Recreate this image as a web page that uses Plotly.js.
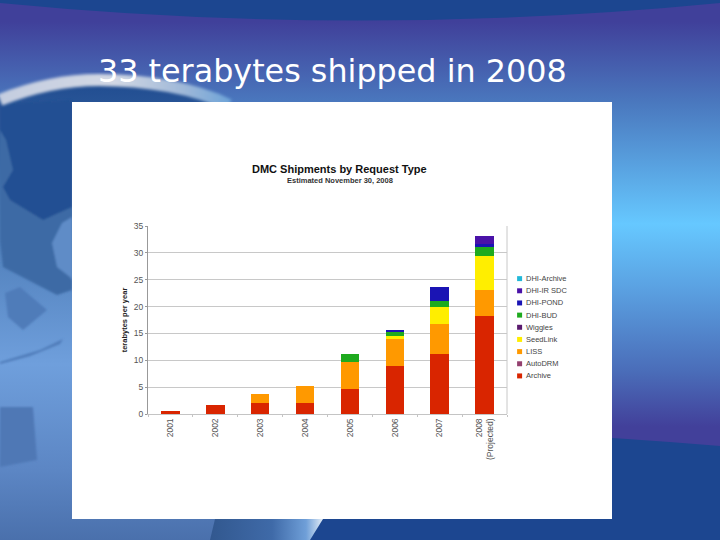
<!DOCTYPE html>
<html>
<head>
<meta charset="utf-8">
<script src="https://cdn.plot.ly/plotly-3.0.1.min.js"></script>
<style>
html,body{margin:0;padding:0;width:720px;height:540px;overflow:hidden;background:#1c4690}
#bg{position:absolute;left:0;top:0}
#chart{position:absolute;left:0;top:0;width:720px;height:540px}
</style>
</head>
<body>
<svg id="bg" width="720" height="540" viewBox="0 0 720 540">
<defs>
<linearGradient id="sky" x1="0" y1="0" x2="0" y2="1">
<stop offset="0" stop-color="#40409a"/>
<stop offset="0.04" stop-color="#40409a"/>
<stop offset="0.19" stop-color="#4a78be"/>
<stop offset="0.415" stop-color="#66c8ff"/>
<stop offset="0.54" stop-color="#5a9fe0"/>
<stop offset="0.69" stop-color="#4a6cb8"/>
<stop offset="0.79" stop-color="#42409a"/>
<stop offset="1" stop-color="#42409a"/>
</linearGradient>
<linearGradient id="globe" x1="0" y1="0" x2="0" y2="1">
<stop offset="0" stop-color="#1f4b8f"/>
<stop offset="0.3" stop-color="#4a79b4"/>
<stop offset="0.62" stop-color="#6f9fdc"/>
<stop offset="0.85" stop-color="#5c86c4"/>
<stop offset="1" stop-color="#4a70ac"/>
</linearGradient>
<linearGradient id="edge" x1="0" y1="0" x2="1" y2="0">
<stop offset="0" stop-color="#32588f"/>
<stop offset="0.55" stop-color="#3f6aa8"/>
<stop offset="0.85" stop-color="#6f9fd8"/>
<stop offset="1" stop-color="#e2ecf6"/>
</linearGradient>
<linearGradient id="rim" x1="0" y1="0" x2="1" y2="0">
<stop offset="0" stop-color="#c4cde0"/>
<stop offset="0.5" stop-color="#d2d8e4"/>
<stop offset="0.8" stop-color="#9fb8d8"/>
<stop offset="1" stop-color="#6fa4d8"/>
</linearGradient>
<filter id="soft" x="-10%" y="-10%" width="120%" height="120%"><feGaussianBlur stdDeviation="1"/></filter>
<filter id="soft2" x="-10%" y="-30%" width="120%" height="160%"><feGaussianBlur stdDeviation="1.6"/></filter>
</defs>
<rect width="720" height="540" fill="url(#sky)"/>
<path d="M0,3 Q360,38 720,3 L720,0 L0,0 Z" fill="#1c4690"/>
<path d="M72,428 Q420,420 720,446 L720,540 L0,540 L0,428 Z" fill="#1c4690"/>
<path d="M0,97 C30,85 65,77 99,77 C145,77 195,85 229,102 L320,519 L298,540 L0,540 Z" fill="url(#globe)"/>
<g filter="url(#soft)">
<path d="M0,130 L72,100 L72,290 L57,295 L3,267 L0,240 Z" fill="#3d6aa5"/>
<path d="M0,104 L72,100 L72,207 L43,220 L10,200 L3,187 L13,170 L6,140 L0,130 Z" fill="#235093"/>
<path d="M52,243 L62,223 L72,217 L72,280 L70,277 L57,267 Z" fill="#5f8cc7"/>
<path d="M5,293 L20,287 L47,310 L23,330 L8,317 Z" fill="#4f7cb9"/>
<path d="M0,407 L33,407 L37,460 L0,467 Z" fill="#4f78b5"/>
<path d="M0,362 L40,350 L63,339 L60,344 L30,356 L0,364 Z" fill="#4f7cb9"/>
</g>
<path d="M215,519 L323,519 L310,540 L210,540 Z" fill="url(#edge)"/>
<path d="M0,100 C30,88 65,80 99,80 C145,80 195,88 229,105" fill="none" stroke="url(#rim)" stroke-width="12" filter="url(#soft2)"/>
<rect x="72" y="102" width="540" height="417" fill="#ffffff"/>
</svg>
<div id="chart"></div>
<script>
const years = ['2001','2002','2003','2004','2005','2006','2007','2008<br>(Projected)'];
const seriesNames = ['Archive','AutoDRM','LISS','SeedLink','Wiggles','DHI-BUD','DHI-POND','DHI-IR SDC','DHI-Archive'];
const seriesColors = ['#d92500','#94406f','#ff9900','#ffee00','#5a1a6e','#1eaa1e','#1a14b4','#4a12a8','#22b8d8'];
const archive   = [0.6,1.7,2.1,2.05,4.6,8.9,11.1,18.2];
const autodrm   = [0,0,0,0,0,0,0,0];
const liss      = [0,0,1.6,3.25,5.05,5.0,5.7,4.9];
const seedlink  = [0,0,0,0,0,0.6,3.05,6.4];
const wiggles   = [0,0,0,0,0,0,0,0];
const dhiBud    = [0,0,0,0,1.55,0.7,1.25,1.5];
const dhiPond   = [0,0,0,0,0,0.5,2.5,0.6];
const dhiIrSdc  = [0,0,0,0,0,0,0,1.6];
const dhiArchive= [0,0,0,0,0,0,0,0];
const allSeries = [archive,autodrm,liss,seedlink,wiggles,dhiBud,dhiPond,dhiIrSdc,dhiArchive];
const yTicks = [0,5,10,15,20,25,30,35];

const traces = allSeries.map((v,i)=>({
  type:'bar', name:seriesNames[i], x:years, y:v,
  marker:{color:seriesColors[i],line:{width:0}}, showlegend:false, hoverinfo:'name+y'
}));

const annotations = [
 {text:'33 terabytes shipped in 2008',xref:'paper',yref:'paper',x:(332.5-148.4)/359,y:(414.3-70)/188.6,
  xanchor:'center',yanchor:'middle',showarrow:false,font:{family:'DejaVu Sans',size:31.8,color:'#ffffff'}},
 {text:'<b>DMC Shipments by Request Type</b>',xref:'paper',yref:'paper',x:(340-148.4)/359,y:(414.3-169)/188.6,
  xanchor:'center',yanchor:'middle',showarrow:false,font:{family:'Liberation Sans',size:11,color:'#111'}},
 {text:'<b>Estimated November 30, 2008</b>',xref:'paper',yref:'paper',x:(340-148.4)/359,y:(414.3-180)/188.6,
  xanchor:'center',yanchor:'middle',showarrow:false,font:{family:'Liberation Sans',size:7.5,color:'#333'}}
];
const shapes = [
 {type:'line',xref:'paper',yref:'paper',x0:1,x1:1,y0:0,y1:1,line:{color:'#c8c8c8',width:1}}
];
const order = seriesNames.slice().reverse();
const colorsRev = seriesColors.slice().reverse();
order.forEach((n,i)=>{
  const py = 278.5 + i*12.2;
  shapes.push({type:'rect',xref:'paper',yref:'paper',
    x0:(517.5-148.4)/359,x1:(522.5-148.4)/359,y0:(414.3-py-2.5)/188.6,y1:(414.3-py+2.5)/188.6,
    fillcolor:colorsRev[i],line:{width:0}});
  annotations.push({text:n,xref:'paper',yref:'paper',x:(524.5-148.4)/359,y:(414.3-py)/188.6,
    xanchor:'left',yanchor:'middle',showarrow:false,font:{family:'Liberation Sans',size:7.5,color:'#444'}});
});

const layout = {
  width:720,height:540,autosize:false,
  margin:{l:148.4,r:212.6,t:225.7,b:125.7,pad:0},
  paper_bgcolor:'rgba(0,0,0,0)',plot_bgcolor:'rgba(0,0,0,0)',
  barmode:'stack',bargap:0.59,showlegend:false,
  xaxis:{type:'category',tickangle:-90,showgrid:false,showline:true,linecolor:'#c4c4c4',linewidth:1,
    tickson:'boundaries',ticks:'outside',ticklen:2,tickcolor:'#c4c4c4',
    tickfont:{family:'Liberation Sans',size:8.5,color:'#555'},automargin:false},
  yaxis:{range:[0,35],tickvals:yTicks,ticktext:yTicks.map(String),showgrid:true,gridcolor:'#c8c8c8',gridwidth:1.2,
    showline:true,linecolor:'#999999',linewidth:1,zeroline:false,ticks:'outside',ticklen:2,tickcolor:'#999999',
    tickfont:{family:'Liberation Sans',size:8.5,color:'#555'},automargin:false,
    title:{text:'<b>terabytes per year</b>',font:{family:'Liberation Sans',size:7.5,color:'#222'},standoff:5}},
  annotations:annotations,shapes:shapes
};
Plotly.newPlot('chart',traces,layout,{displayModeBar:false,staticPlot:true});
</script>
</body>
</html>
